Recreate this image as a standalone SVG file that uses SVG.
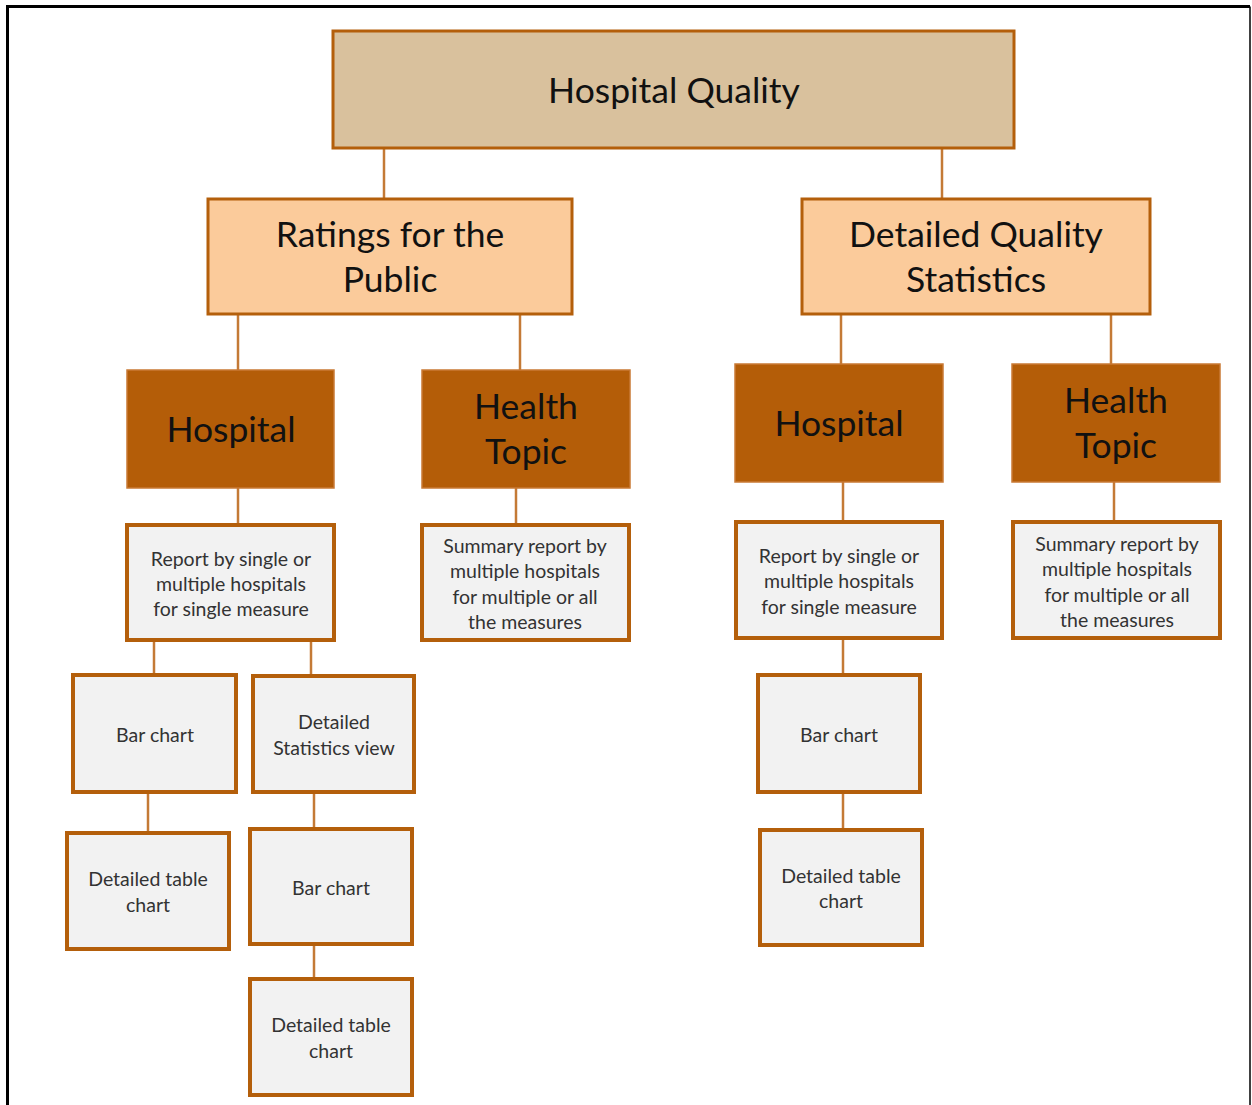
<svg xmlns="http://www.w3.org/2000/svg" width="1252" height="1105" viewBox="0 0 1252 1105">
<style>
.t{font-family:Lato,"Open Sans","Liberation Sans",sans-serif;text-anchor:middle;dominant-baseline:central}
.big{font-size:35.5px;fill:#111}
.sm{font-size:19.5px;fill:#333}
.root{fill:#D9C19D;stroke:#B45F0B;stroke-width:3}
.l2{fill:#FBCB9B;stroke:#B45F0B;stroke-width:3}
.l3{fill:#B45D08;stroke:#C97A35;stroke-width:1.5}
.leaf{fill:#F2F2F2;stroke:#B45F0B;stroke-width:4}
.c line{stroke:#C47A36;stroke-width:2.5}
</style>
<rect x="0" y="0" width="1252" height="1105" fill="#fff"/>
<path d="M7.5 1110 V6.5 H1250" fill="none" stroke="#000" stroke-width="3"/>
<line x1="1250" y1="6.5" x2="1250" y2="1110" stroke="#000" stroke-width="1.5"/>
<g class="c">
<line x1="384" y1="148" x2="384" y2="199"/>
<line x1="942" y1="148" x2="942" y2="199"/>
<line x1="238" y1="314" x2="238" y2="370"/>
<line x1="520" y1="314" x2="520" y2="370"/>
<line x1="841" y1="314" x2="841" y2="364"/>
<line x1="1111" y1="314" x2="1111" y2="364"/>
<line x1="238" y1="488" x2="238" y2="525"/>
<line x1="516" y1="488" x2="516" y2="525"/>
<line x1="843" y1="482" x2="843" y2="522"/>
<line x1="1114" y1="482" x2="1114" y2="522"/>
<line x1="154" y1="640" x2="154" y2="675"/>
<line x1="311" y1="640" x2="311" y2="676"/>
<line x1="148" y1="792" x2="148" y2="833"/>
<line x1="314" y1="792" x2="314" y2="829"/>
<line x1="314" y1="944" x2="314" y2="979"/>
<line x1="843" y1="638" x2="843" y2="675"/>
<line x1="843" y1="792" x2="843" y2="830"/>
</g>
<g id="root"><rect class="root" x="333" y="31" width="681" height="117"/><text class="t big" x="674" y="89">Hospital Quality</text></g>
<g id="ratings"><rect class="l2" x="208" y="199" width="364" height="115"/><text class="t big" x="390" y="233">Ratings for the</text><text class="t big" x="390" y="278">Public</text></g>
<g id="detailed"><rect class="l2" x="802" y="199" width="348" height="115"/><text class="t big" x="976" y="233">Detailed Quality</text><text class="t big" x="976" y="278">Statistics</text></g>
<g id="hospL"><rect class="l3" x="127" y="370" width="207" height="118"/><text class="t big" x="231" y="428">Hospital</text></g>
<g id="topicL"><rect class="l3" x="422" y="370" width="208" height="118"/><text class="t big" x="526" y="405">Health</text><text class="t big" x="526" y="450">Topic</text></g>
<g id="hospR"><rect class="l3" x="735" y="364" width="208" height="118"/><text class="t big" x="839" y="422">Hospital</text></g>
<g id="topicR"><rect class="l3" x="1012" y="364" width="208" height="118"/><text class="t big" x="1116" y="399">Health</text><text class="t big" x="1116" y="444">Topic</text></g>
<g id="reportL"><rect class="leaf" x="127" y="525" width="207" height="115"/><text class="t sm" x="231" y="558">Report by single or</text><text class="t sm" x="231" y="583">multiple hospitals</text><text class="t sm" x="231" y="608">for single measure</text></g>
<g id="summaryL"><rect class="leaf" x="422" y="525" width="207" height="115"/><text class="t sm" x="525" y="545">Summary report by</text><text class="t sm" x="525" y="570">multiple hospitals</text><text class="t sm" x="525" y="596">for multiple or all</text><text class="t sm" x="525" y="621">the measures</text></g>
<g id="reportR"><rect class="leaf" x="736" y="522" width="206" height="116"/><text class="t sm" x="839" y="555">Report by single or</text><text class="t sm" x="839" y="580">multiple hospitals</text><text class="t sm" x="839" y="606">for single measure</text></g>
<g id="summaryR"><rect class="leaf" x="1013" y="522" width="207" height="116"/><text class="t sm" x="1117" y="543">Summary report by</text><text class="t sm" x="1117" y="568">multiple hospitals</text><text class="t sm" x="1117" y="594">for multiple or all</text><text class="t sm" x="1117" y="619">the measures</text></g>
<g id="barL1"><rect class="leaf" x="73" y="675" width="163" height="117"/><text class="t sm" x="155" y="734">Bar chart</text></g>
<g id="statsL"><rect class="leaf" x="253" y="676" width="161" height="116"/><text class="t sm" x="334" y="721">Detailed</text><text class="t sm" x="334" y="747">Statistics view</text></g>
<g id="tableL1"><rect class="leaf" x="67" y="833" width="162" height="116"/><text class="t sm" x="148" y="878">Detailed table</text><text class="t sm" x="148" y="904">chart</text></g>
<g id="barL2"><rect class="leaf" x="250" y="829" width="162" height="115"/><text class="t sm" x="331" y="887">Bar chart</text></g>
<g id="tableL2"><rect class="leaf" x="250" y="979" width="162" height="116"/><text class="t sm" x="331" y="1024">Detailed table</text><text class="t sm" x="331" y="1050">chart</text></g>
<g id="barR"><rect class="leaf" x="758" y="675" width="162" height="117"/><text class="t sm" x="839" y="734">Bar chart</text></g>
<g id="tableR"><rect class="leaf" x="760" y="830" width="162" height="115"/><text class="t sm" x="841" y="875">Detailed table</text><text class="t sm" x="841" y="900">chart</text></g>
</svg>
